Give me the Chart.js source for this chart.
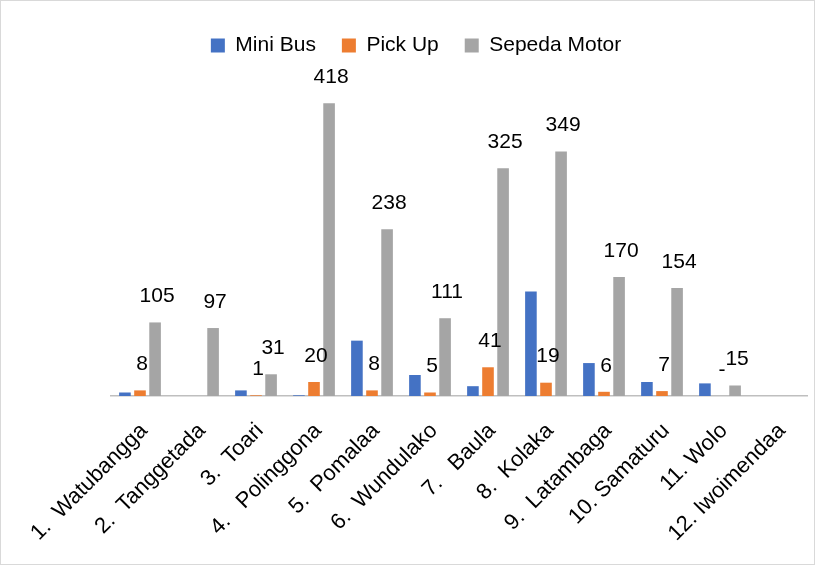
<!DOCTYPE html>
<html>
<head>
<meta charset="utf-8">
<script src="https://cdn.jsdelivr.net/npm/chart.js@4.4.1/dist/chart.umd.min.js"></script>
<style>
  html, body { margin: 0; padding: 0; background: #fff; }
  #wrap { width: 815px; height: 565px; box-sizing: border-box; border: 1px solid #d9d9d9; }
  #chart { display: block; }
</style>
</head>
<body>
<div id="wrap"><canvas id="chart" width="813" height="563"></canvas></div>
<script>
const categories = [
  '1.  Watubangga', '2.  Tanggetada', '3.  Toari', '4.   Polinggona',
  '5.  Pomalaa', '6.  Wundulako', '7.   Baula', '8.  Kolaka',
  '9.  Latambaga', '10. Samaturu', '11. Wolo', '12. Iwoimendaa'
];
const miniBus = [5, 0, 8, 1, 79, 30, 14, 149, 47, 20, 18, 0];
const pickUp = [8, 0, 1, 20, 8, 5, 41, 19, 6, 7, 0, 0];
const sepedaMotor = [105, 97, 31, 418, 238, 111, 325, 349, 170, 154, 15, 0];
// text shown above the bars (empty = no label)
const pickUpLabels = ['8', '', '1', '20', '8', '5', '41', '19', '6', '7', '-', ''];
const motorLabels = ['105', '97', '31', '418', '238', '111', '325', '349', '170', '154', '15', ''];

const FONT = "'Liberation Sans', Arial, sans-serif";

// draw value labels above Pick Up and Sepeda Motor bars
const barLabels = {
  id: 'barLabels',
  afterDatasetsDraw(chart) {
    const ctx = chart.ctx;
    const sets = [[1, pickUpLabels], [2, motorLabels]];
    ctx.save();
    ctx.font = '21px ' + FONT;
    ctx.fillStyle = '#000';
    ctx.textAlign = 'center';
    ctx.textBaseline = 'middle';
    sets.forEach(([idx, texts]) => {
      chart.getDatasetMeta(idx).data.forEach((bar, i) => {
        if (!texts[i]) return;
        ctx.fillText(texts[i], bar.x + 2, bar.y - 26);
      });
    });
    ctx.restore();
  }
};

new Chart(document.getElementById('chart'), {
  type: 'bar',
  data: {
    labels: categories,
    datasets: [
      { label: 'Mini Bus', data: miniBus, backgroundColor: '#4472C4' },
      { label: 'Pick Up', data: pickUp, backgroundColor: '#ED7D31' },
      { label: 'Sepeda Motor', data: sepedaMotor, backgroundColor: '#A5A5A5' }
    ]
  },
  options: {
    responsive: false,
    animation: false,
    datasets: { bar: { categoryPercentage: 0.78, barPercentage: 0.77 } },
    layout: { padding: { left: 24, right: 7, top: 8, bottom: 0 } },
    plugins: {
      legend: {
        position: 'top',
        labels: {
          color: '#000', boxWidth: 14, boxHeight: 14, padding: 26,
          font: { family: FONT, size: 21 }
        }
      },
      tooltip: { enabled: false }
    },
    scales: {
      x: {
        grid: { display: false, drawTicks: false },
        border: { color: '#bfbfbf', width: 1.5 },
        ticks: {
          color: '#000', maxRotation: 45, minRotation: 45, autoSkip: false,
          padding: 22, labelOffset: 4,
          font: { family: FONT, size: 22 }
        },
        afterFit(scale) {
          scale.height = 168;
          scale.paddingLeft = 0;
          scale.paddingRight = 0;
        }
      },
      y: {
        min: 0, max: 471,
        grid: { display: false, drawTicks: false },
        border: { display: false },
        ticks: { display: false },
        afterFit(scale) { scale.width = 86; }
      }
    }
  },
  plugins: [barLabels]
});
</script>
</body>
</html>
